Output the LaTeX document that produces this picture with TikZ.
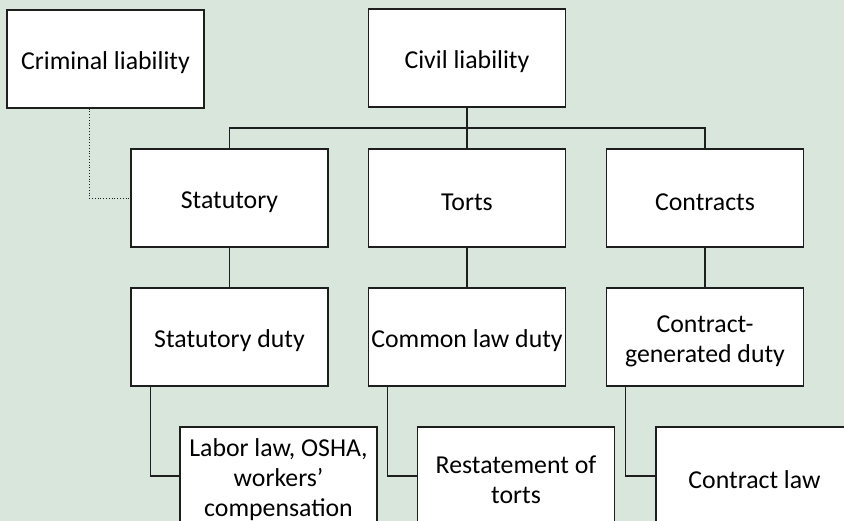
\documentclass[tikz,border=0pt]{standalone}
\usepackage{fontspec}
\setmainfont{Carlito}
\definecolor{bg}{RGB}{217,230,220}
\definecolor{edge}{RGB}{30,30,30}
\begin{document}
\begin{tikzpicture}[x=1pt,y=-1pt,
  box/.style={draw=edge,line width=1.3pt,fill=white,rectangle,minimum width=197pt,minimum height=98pt,
    inner sep=0pt,align=flush center,text width=195pt,font=\fontsize{25.8}{30}\selectfont,
    execute at begin node={\rule{0pt}{25pt}}},
  conn/.style={draw=edge,line width=1.2pt},
  dots/.style={draw=edge,line width=0.8pt,dotted}]
\fill[bg] (0,0) rectangle (844,521);
\useasboundingbox (0,0) rectangle (844,521);
\clip (0,0) rectangle (844,521);
\node[box] (crim) at (105.5,59) {Criminal liability};
\node[box] (civil) at (467,58) {Civil liability};
\node[box] (stat) at (229.5,198) {Statutory};
\node[box] (tort) at (467,198) {Torts};
\node[box] (contr) at (705,198) {Contracts};
\node[box] (sduty) at (229.5,337) {Statutory duty};
\node[box] (cduty) at (467,337) {Common law duty};
\node[box] (kduty) at (705,337) {Contract-\\generated duty};
\node[box] (labor) at (278.5,476) {Labor law, OSHA,\\workers'\\compensation};
\node[box] (rest) at (516,476) {Restatement of\\torts};
\node[box] (claw) at (754.5,476) {Contract law};
\coordinate (bus) at (467,128);
\path[conn] (civil.south) -- (tort.north);
\path[conn] (bus) -| (stat.north);
\path[conn] (bus) -| (contr.north);
\path[conn] (stat.south) -- (sduty.north);
\path[conn] (tort.south) -- (cduty.north);
\path[conn] (contr.south) -- (kduty.north);
\path[conn] ([xshift=20pt]sduty.south west) |- (labor.west);
\path[conn] ([xshift=20pt]cduty.south west) |- (rest.west);
\path[conn] ([xshift=19.5pt]kduty.south west) |- (claw.west);
\path[dots] ([xshift=-16.5pt]crim.south) |- (stat.west);
\end{tikzpicture}
\end{document}
